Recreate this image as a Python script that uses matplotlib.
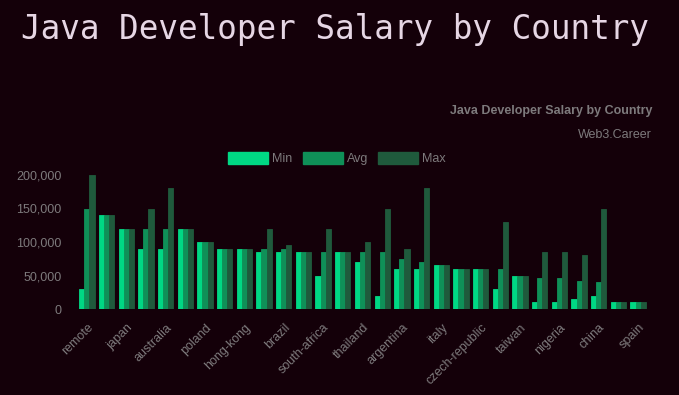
import numpy as np
import matplotlib
matplotlib.use('Agg')
import matplotlib.pyplot as plt
from matplotlib.patches import Rectangle

plt.rcParams['font.family'] = ['Liberation Sans', 'DejaVu Sans']

# every other country is labelled on the axis
shown_labels = ['remote', 'japan', 'australia', 'poland', 'hong-kong', 'brazil',
                'south-africa', 'thailand', 'argentina', 'italy', 'czech-republic',
                'taiwan', 'nigeria', 'china', 'spain']

min_salary = [30000, 140000, 120000, 90000, 90000, 120000, 100000, 90000, 90000, 85000,
              85000, 85000, 50000, 85000, 70000, 20000, 60000, 60000, 65000, 60000,
              60000, 30000, 50000, 10000, 10000, 15000, 20000, 10000, 10000]
avg_salary = [150000, 140000, 120000, 120000, 120000, 120000, 100000, 90000, 90000, 90000,
              90000, 85000, 85000, 85000, 85000, 85000, 75000, 70000, 65000, 60000,
              60000, 60000, 50000, 47000, 47000, 42000, 40000, 10000, 10000]
max_salary = [200000, 140000, 120000, 150000, 180000, 120000, 100000, 90000, 90000, 120000,
              95000, 85000, 120000, 85000, 100000, 150000, 90000, 180000, 65000, 60000,
              60000, 130000, 50000, 85000, 85000, 80000, 150000, 10000, 10000]

series = [('Min', min_salary, '#00d884'),
          ('Avg', avg_salary, '#0f9058'),
          ('Max', max_salary, '#1f5a3c')]

bg = '#140009'
grey = '#7d7a7c'

figure = plt.figure(figsize=(6.79, 3.95), dpi=100)
figure.patch.set_facecolor(bg)
axis = figure.add_axes([77 / 679, 86 / 395, 571 / 679, 134 / 395])
axis.set_facecolor(bg)

x = np.arange(len(min_salary))
w = 0.26
for i, (name, vals, col) in enumerate(series):
    axis.bar(x + (i - 1) * w, vals, width=w, color=col, edgecolor=col, linewidth=0.6)

axis.set_xlim(-0.5, len(x) - 0.5)
axis.set_ylim(0, 200000)
axis.set_yticks(np.arange(0, 200001, 50000))
axis.set_yticklabels(['{:,}'.format(v) for v in range(0, 200001, 50000)])
axis.set_xticks(x[::2])
axis.set_xticklabels(shown_labels, rotation=45, ha='right', rotation_mode='anchor')
axis.tick_params(axis='both', length=0, colors=grey, labelsize=9)
axis.tick_params(axis='y', pad=11)
axis.tick_params(axis='x', pad=9)
for s in axis.spines.values():
    s.set_visible(False)

figure.text(335 / 679, 1 - 29 / 395, 'Java Developer Salary by Country', ha='center', va='center',
            fontsize=23.5, family='DejaVu Sans Mono', color='#e6d6e4')
figure.text(652 / 679, 1 - 111 / 395, 'Java Developer Salary by Country', ha='right', va='center',
            fontsize=9, fontweight='bold', color=grey)
figure.text(652 / 679, 1 - 135 / 395, 'Web3.Career', ha='right', va='center',
            fontsize=9, color=grey)

# legend boxes
legend_x = [228, 303, 378]
for (name, vals, col), lx in zip(series, legend_x):
    figure.patches.append(Rectangle((lx / 679, 1 - 164 / 395), 40 / 679, 12 / 395,
                                    transform=figure.transFigure, facecolor=col, edgecolor=col))
    figure.text((lx + 44) / 679, 1 - 159 / 395, name, ha='left', va='center',
                fontsize=9, color=grey)

figure.savefig('out.png', dpi=100, facecolor=bg)
